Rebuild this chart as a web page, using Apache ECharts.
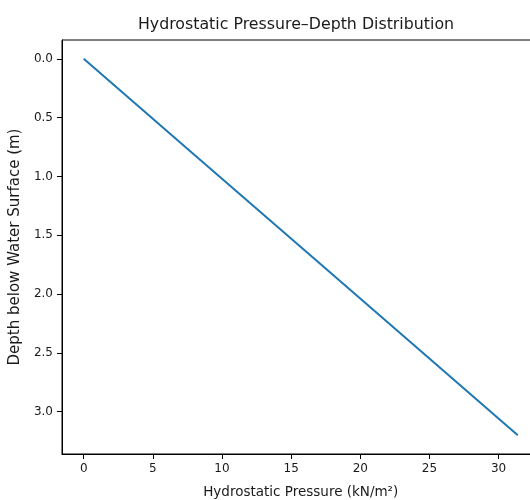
<!DOCTYPE html>
<html>
<head>
<meta charset="utf-8">
<script src="https://cdn.jsdelivr.net/npm/echarts@6/dist/echarts.min.js"></script>
<style>html,body{margin:0;padding:0;background:#fff}#c{width:530px;height:500px}</style>
</head>
<body>
<div id="c"></div>
<script>
// Data
const depth = [0, 0.8, 1.6, 2.4, 3.2];               // m
const pressure = [0, 7.85, 15.7, 23.54, 31.39];       // kN/m²
const xTicks = [0, 5, 10, 15, 20, 25, 30];
const yTicks = [0, 0.5, 1.0, 1.5, 2.0, 2.5, 3.0];
const titleText = 'Hydrostatic Pressure\u2013Depth Distribution';
const xName = 'Hydrostatic Pressure (kN/m\u00b2)';
const yName = 'Depth below Water Surface (m)';

const chart = echarts.init(document.getElementById('c'), null, {renderer: 'canvas'});
const font = 'DejaVu Sans';
const txt = '#1a1a1a';
const axisCommon = {
  axisLine: {show: true, onZero: false, lineStyle: {color: '#000', width: 1}},
  axisTick: {show: true, length: 5, lineStyle: {color: '#000', width: 1}},
  splitLine: {show: false},
  nameTextStyle: {fontFamily: font, fontSize: 13.5, color: txt}
};
chart.setOption({
  animation: false,
  backgroundColor: '#fff',
  graphic: [{
    type: 'text', x: 296, y: 25,
    style: {text: titleText, fontFamily: font, fontSize: 15.8, fill: txt, align: 'center', verticalAlign: 'middle'}
  }],
  grid: {left: 62, top: 40, width: 477.5, height: 414, containLabel: false, outerBoundsMode: 'none',
         show: true, borderColor: '#000', borderWidth: 1, backgroundColor: 'transparent'},
  xAxis: Object.assign({}, axisCommon, {
    type: 'value', min: -1.57, max: 32.96,
    name: xName, nameLocation: 'middle', nameGap: 31,
    axisTick: Object.assign({}, axisCommon.axisTick, {customValues: xTicks}),
    axisLabel: {customValues: xTicks, margin: 9, fontFamily: font, fontSize: 12, color: txt,
      formatter: v => String(Math.round(v))}
  }),
  yAxis: Object.assign({}, axisCommon, {
    type: 'value', inverse: true, min: -0.16, max: 3.36,
    name: yName, nameLocation: 'middle', nameGap: 32, nameRotate: 90,
    nameTextStyle: {fontFamily: font, fontSize: 15, color: txt},
    axisTick: Object.assign({}, axisCommon.axisTick, {customValues: yTicks}),
    axisLabel: {customValues: yTicks, margin: 9, fontFamily: font, fontSize: 12, color: txt,
      formatter: v => v.toFixed(1)}
  }),
  series: [{
    type: 'line',
    data: pressure.map((p, i) => [p, depth[i]]),
    showSymbol: false,
    lineStyle: {color: '#1f77b4', width: 2},
    clip: false
  }]
});
</script>
</body>
</html>
